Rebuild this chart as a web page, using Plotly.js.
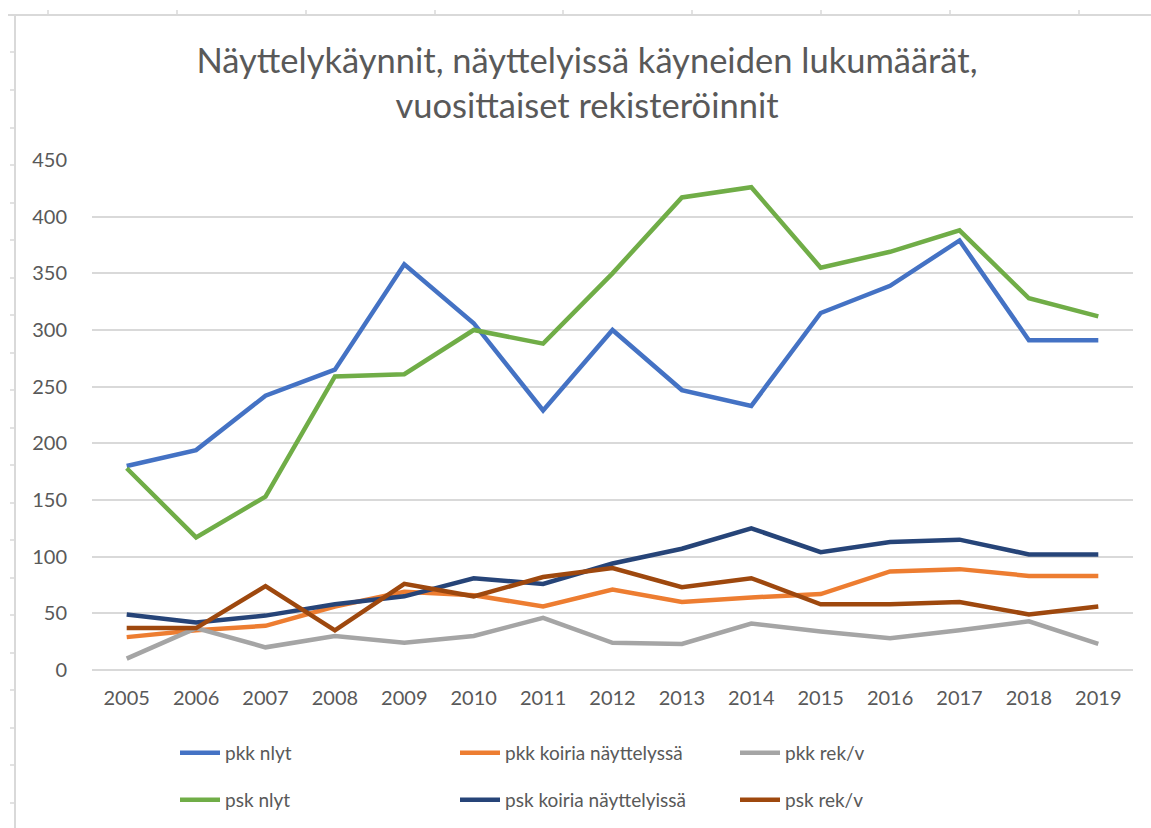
<!DOCTYPE html>
<html>
<head>
<meta charset="utf-8">
<script src="https://cdn.plot.ly/plotly-3.0.1.min.js"></script>
<style>html,body{margin:0;padding:0;background:#fff;}#chart{width:1151px;height:828px;}</style>
</head>
<body>
<div id="chart"></div>
<script>
const years = [2005,2006,2007,2008,2009,2010,2011,2012,2013,2014,2015,2016,2017,2018,2019];
const pkkNlyt   = [180,194,242,265,358,306,229,300,247,233,315,339,379,291,291];
const pkkKoiria = [29,35,39,56,69,66,56,71,60,64,67,87,89,83,83];
const pkkRek    = [10,37,20,30,24,30,46,24,23,41,34,28,35,43,23];
const pskNlyt   = [178,117,153,259,261,300,288,350,417,426,355,369,388,328,312];
const pskKoiria = [49,42,48,58,65,81,76,94,107,125,104,113,115,102,102];
const pskRek    = [37,37,74,35,76,65,82,90,73,81,58,58,60,49,56];

const names = ['pkk nlyt','pkk koiria näyttelyssä','pkk rek/v','psk nlyt','psk koiria näyttelyissä','psk rek/v'];
const series = [pkkNlyt,pkkKoiria,pkkRek,pskNlyt,pskKoiria,pskRek];
const colors = ['#4472C4','#ED7D31','#A5A5A5','#70AD47','#264478','#9E480E'];
const legendOf = ['legend','legend','legend','legend2','legend2','legend2'];

const traces = series.map((s,i)=>({
  x: years, y: s, type:'scatter', mode:'lines', name: names[i],
  line:{color:colors[i], width:4.5},
  legend: legendOf[i], hoverinfo:'x+y+name'
}));

// plot area in pixels
const L=92, R=1133, T=160, B=670;
const px = v => (v-L)/(R-L);
const py = v => (B-v)/(B-T);

const shapes = [];
const border = '#d9d9d9';
shapes.push({type:'line',xref:'paper',yref:'paper',x0:px(15),x1:px(15),y0:py(15),y1:py(828),line:{color:border,width:2}});
shapes.push({type:'line',xref:'paper',yref:'paper',x0:px(8),x1:px(1151),y0:py(15),y1:py(15),line:{color:border,width:2}});
[48,177,306,435,563,692,821,950,1079].forEach(x=>{
  shapes.push({type:'line',xref:'paper',yref:'paper',x0:px(x),x1:px(x),y0:py(10),y1:py(15),line:{color:border,width:1.5}});
});
[52,90,128,165,203,240,278,315,353,390,428,465,503,540,578,615,653,690,728,765,803].forEach(y=>{
  shapes.push({type:'line',xref:'paper',yref:'paper',x0:px(10),x1:px(15),y0:py(y),y1:py(y),line:{color:border,width:1.5}});
});

const font = 'Lato, Carlito, "Liberation Sans", sans-serif';
const legendCommon = {orientation:'h', xanchor:'left', yanchor:'middle', entrywidth:225, entrywidthmode:'pixels',
  font:{family:font,size:19,color:'#595959'}, bgcolor:'rgba(0,0,0,0)', itemwidth:40, traceorder:'normal'};

const layout = {
  width:1151, height:828,
  margin:{l:L, r:1151-R, t:T, b:828-B, pad:0, autoexpand:false},
  paper_bgcolor:'#ffffff', plot_bgcolor:'#ffffff',
  title:{text:'Näyttelykäynnit, näyttelyissä käyneiden lukumäärät,<br>vuosittaiset rekisteröinnit',
    font:{family:font,size:34.5,color:'#595959'}, x:587/1151, xanchor:'center', xref:'container', y:0.912, yanchor:'middle', yref:'container'},
  xaxis:{type:'linear', range:[2004.5,2019.5], tickvals:years, ticktext:years.map(String), showgrid:false, zeroline:false,
    showline:false, ticks:'', tickfont:{family:font,size:20,color:'#595959'}, ticklabelstandoff:14, fixedrange:true},
  yaxis:{range:[0,450], dtick:50, tick0:0, showgrid:true, gridcolor:'#d9d9d9', gridwidth:2, zeroline:true, zerolinecolor:'#d9d9d9', zerolinewidth:2,
    ticks:'', tickfont:{family:font,size:20,color:'#595959'}, ticklabelstandoff:24, showline:false, fixedrange:true},
  showlegend:true,
  legend:Object.assign({}, legendCommon, {x:px(175), y:py(753)}),
  legend2:Object.assign({}, legendCommon, {x:px(175), y:py(800)}),
  shapes: shapes
};

Plotly.newPlot('chart', traces, layout, {displayModeBar:false});
</script>
</body>
</html>
